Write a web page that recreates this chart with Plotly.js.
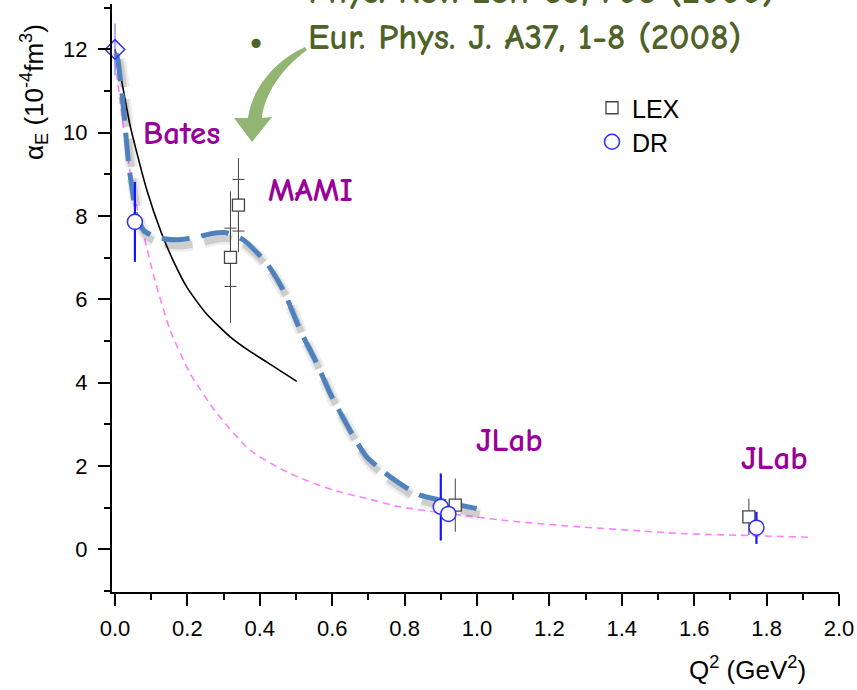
<!DOCTYPE html>
<html>
<head>
<meta charset="utf-8">
<script src="https://cdn.plot.ly/plotly-3.0.1.min.js"></script>
<style>html,body{margin:0;padding:0;background:#fff}#chart{width:857px;height:690px}</style>
</head>
<body>
<div id="chart"></div>
<script>
// ---------- data ----------
const lexX = [0.319, 0.341, 0.940, 1.751];
const lexY = [7.01, 8.26, 1.06, 0.78];
const lexErrTotal = [1.58, 1.13, 0.64, 0.44];
const mamiX = [0.319, 0.341];
const mamiY = [7.01, 8.26];
const mamiErrStat = [0.70, 0.62];

const drX = [0.055, 0.900, 0.921, 1.772];
const drY = [7.86, 1.02, 0.85, 0.52];
const drErrPlus = [0.96, 0.80, 0.18, 0.38];
const drErrMinus = [0.96, 0.81, 0.18, 0.39];

const rcsX = [0.0];
const rcsY = [12.0];
const rcsErr = [0.62];

const blackX = [0.0, 0.014, 0.041, 0.087, 0.128, 0.165, 0.198, 0.25, 0.318, 0.373, 0.4185, 0.502];
const blackY = [12.0, 11.45, 10.2, 8.65, 7.6, 6.85, 6.3, 5.68, 5.10, 4.75, 4.50, 4.03];

const pinkX = [0.0, 0.005, 0.028, 0.05, 0.078, 0.11, 0.152, 0.207, 0.281, 0.373, 0.483, 0.603, 0.695, 0.787, 0.9, 1.08, 1.25, 1.42, 1.561, 1.75, 1.915];
const pinkY = [12.0, 11.43, 9.83, 8.63, 7.59, 6.47, 5.27, 4.23, 3.27, 2.38, 1.82, 1.42, 1.22, 1.02, 0.88, 0.69, 0.56, 0.46, 0.38, 0.33, 0.29];

const blueX = [0.003, 0.008, 0.023, 0.037, 0.048, 0.06, 0.08, 0.106, 0.14, 0.17, 0.22, 0.262, 0.308, 0.354, 0.419, 0.465, 0.511, 0.557, 0.594, 0.649, 0.695, 0.76, 0.801, 0.843, 0.898, 0.953, 0.999];
const blueY = [11.9, 11.75, 10.63, 9.3, 8.6, 7.95, 7.65, 7.52, 7.45, 7.43, 7.48, 7.57, 7.6, 7.43, 6.87, 6.22, 5.27, 4.47, 3.75, 2.86, 2.22, 1.74, 1.50, 1.30, 1.18, 1.06, 0.98];

const xTickVals = [0, 0.2, 0.4, 0.6, 0.8, 1.0, 1.2, 1.4, 1.6, 1.8, 2.0];
const xTickText = ['0.0', '0.2', '0.4', '0.6', '0.8', '1.0', '1.2', '1.4', '1.6', '1.8', '2.0'];
const yTickVals = [0, 2, 4, 6, 8, 10, 12];

// ---------- layout helpers ----------
const M = {l: 112, r: 18, t: 4, b: 98};
const PW = 857 - M.l - M.r, PH = 690 - M.t - M.b;
const XR = [-0.0083, 2.0], YR = [-1.025, 13.09];
const px = v => (v - M.l) / PW;            // pixel -> paper x
const py = v => (690 - M.b - v) / PH;      // pixel -> paper y
// shadow offset in data units (pixels -> data)
const dxs = 3 * (XR[1] - XR[0]) / PW, dys = 6 * (YR[1] - YR[0]) / PH;

const blueDash = '28px,12px';
const traces = [
  {x: pinkX, y: pinkY, mode: 'lines', line: {color: '#FF80FF', width: 1.6, dash: '7px,5px', shape: 'spline', smoothing: 0.6}, showlegend: false, hoverinfo: 'skip'},
  {x: blackX, y: blackY, mode: 'lines', line: {color: '#000000', width: 1.6, shape: 'spline', smoothing: 0.6}, showlegend: false, hoverinfo: 'skip'},
  {x: blueX.map(v => v + dxs), y: blueY.map(v => v - dys), mode: 'lines', line: {color: 'rgba(0,0,0,0.07)', width: 12, dash: blueDash, shape: 'spline', smoothing: 0.6}, showlegend: false, hoverinfo: 'skip'},
  {x: blueX.map(v => v + dxs), y: blueY.map(v => v - dys), mode: 'lines', line: {color: 'rgba(0,0,0,0.13)', width: 7, dash: blueDash, shape: 'spline', smoothing: 0.6}, showlegend: false, hoverinfo: 'skip'},
  {x: blueX, y: blueY, mode: 'lines', line: {color: '#4F81BD', width: 5, dash: blueDash, shape: 'spline', smoothing: 0.6}, showlegend: false, hoverinfo: 'skip'},
  {x: rcsX, y: rcsY, mode: 'markers', cliponaxis: false, showlegend: false,
   marker: {symbol: 'diamond-open', size: 15, color: '#2E2EFF', line: {width: 1.5}},
   error_y: {type: 'data', array: rcsErr, color: '#7777FF', thickness: 1.2, width: 0}},
  {x: mamiX, y: mamiY, mode: 'markers', showlegend: false, hoverinfo: 'skip',
   marker: {size: 1, opacity: 0},
   error_y: {type: 'data', array: mamiErrStat, color: '#444444', thickness: 1, width: 6}},
  {x: lexX, y: lexY, mode: 'markers', name: 'LEX', legend: 'legend',
   marker: {symbol: 'square', size: 12, color: '#FFFFFF', line: {color: '#444444', width: 1.3}},
   error_y: {type: 'data', array: lexErrTotal, color: '#444444', thickness: 1, width: 0}},
  {x: drX, y: drY, mode: 'markers', name: 'DR', legend: 'legend2', cliponaxis: false,
   marker: {symbol: 'circle', size: 15, color: '#FFFFFF', line: {color: '#2E2EFF', width: 1.5}},
   error_y: {type: 'data', symmetric: false, array: drErrPlus, arrayminus: drErrMinus, color: '#1515FF', thickness: 2.2, width: 0}}
];

const purple = '#990099', olive = '#4F6228';
const handFont = '"Comic Sans MS", "Comic Neue", "Noto Sans", sans-serif';
const ann = (text, x, y, size, color, extra) => Object.assign({
  text: text, xref: 'paper', yref: 'paper', x: px(x), y: py(y), showarrow: false,
  xanchor: 'center', yanchor: 'middle', font: {family: handFont, size: size, color: color, weight: 'bold'}
}, extra || {});

// curved arrow (decoration) in pixel space -> paper
const P = (a, b) => px(a).toFixed(4) + ',' + py(b).toFixed(4);
const arrowPath = 'M' + P(305, 47) +
  ' C' + P(272, 62) + ' ' + P(251, 92) + ' ' + P(248, 118) +
  ' L' + P(234, 118) + ' L' + P(252, 142) + ' L' + P(272, 117) +
  ' L' + P(262, 118) +
  ' C' + P(264, 95) + ' ' + P(282, 68) + ' ' + P(307, 50) + ' Z';

const axisFont = {family: '"Liberation Sans", Arial, sans-serif', size: 22, color: '#000'};
const titleFont = {family: '"Liberation Sans", Arial, sans-serif', size: 26, color: '#000'};

const layout = {
  width: 857, height: 690,
  margin: M,
  paper_bgcolor: '#fff', plot_bgcolor: '#fff',
  xaxis: {range: XR, showgrid: false, zeroline: false, showline: true, linecolor: '#000', linewidth: 2,
    ticks: 'outside', ticklen: 12, tickwidth: 2, tickcolor: '#000',
    tickvals: xTickVals, ticktext: xTickText, tickfont: axisFont, ticklabelstandoff: 4,
    minor: {tickvals: [0.1, 0.3, 0.5, 0.7, 0.9, 1.1, 1.3, 1.5, 1.7, 1.9], ticks: 'outside', ticklen: 6, tickwidth: 2, tickcolor: '#000'}},
  yaxis: {range: YR, showgrid: false, zeroline: false, showline: true, linecolor: '#000', linewidth: 2,
    ticks: 'outside', ticklen: 12, tickwidth: 2, tickcolor: '#000',
    tickvals: yTickVals, tickfont: axisFont, ticklabelstandoff: 6,
    minor: {dtick: 1, ticks: 'outside', ticklen: 6, tickwidth: 2, tickcolor: '#000'}},
  legend: {x: px(592), y: py(108), xanchor: 'left', yanchor: 'middle', bgcolor: 'rgba(0,0,0,0)',
    font: {family: '"Liberation Sans", Arial, sans-serif', size: 25, color: '#000'}},
  legend2: {x: px(592), y: py(142), xanchor: 'left', yanchor: 'middle', bgcolor: 'rgba(0,0,0,0)',
    font: {family: '"Liberation Sans", Arial, sans-serif', size: 25, color: '#000'}},
  shapes: [{type: 'path', xref: 'paper', yref: 'paper', path: arrowPath, fillcolor: '#93B574', line: {width: 0}, layer: 'above'}],
  annotations: [
    ann('Bates', 181, 133, 33, purple),
    ann('MAMI', 310, 190, 33, purple),
    ann('JLab', 509, 440, 33, purple),
    ann('JLab', 774, 458, 33, purple),
    ann('•', 256, 40, 44, olive),
    ann('Phys. Rev. Lett 85, 708 (2000)', 306, -8, 36, olive, {xanchor: 'left'}),
    ann('Eur. Phys. J. A37, 1-8 (2008)', 306, 38, 36, olive, {xanchor: 'left'}),
    ann('α<sub>E</sub> (10<sup>-4</sup>fm<sup>3</sup>)', 34, 92, 26, '#000', {textangle: -90, font: titleFont}),
    ann('Q<sup>2</sup> (GeV<sup>2</sup>)', 747, 668, 26, '#000', {font: titleFont})
  ]
};

Plotly.newPlot('chart', traces, layout, {displayModeBar: false, staticPlot: true});
</script>
</body>
</html>
